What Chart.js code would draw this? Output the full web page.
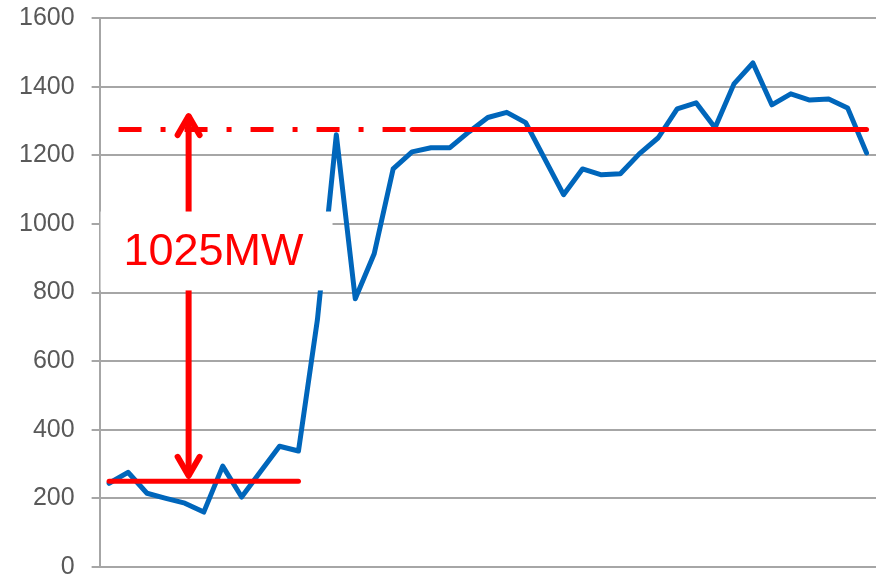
<!DOCTYPE html>
<html>
<head>
<meta charset="utf-8">
<script src="https://cdn.jsdelivr.net/npm/chart.js@4.4.1/dist/chart.umd.min.js"></script>
<style>
  html, body { margin: 0; padding: 0; background: #fff; }
  #wrap { width: 881px; height: 577px; }
</style>
</head>
<body>
<div id="wrap"><canvas id="loadChart" width="881" height="577"></canvas></div>
<script>
// load readings, one per time step (MW)
const loadMW = [244, 276, 215, 200, 186, 160, 294, 204, 278, 352, 338, 720, 1260, 782, 913,
  1160, 1210, 1222, 1222, 1268, 1310, 1325, 1295, 1190, 1085, 1160, 1143, 1146, 1204, 1251,
  1335, 1353, 1280, 1408, 1469, 1347, 1379, 1361, 1364, 1338, 1207];

const yTicks = [0, 200, 400, 600, 800, 1000, 1200, 1400, 1600];

// reference levels (MW) and the steps they span
const baseLevel = 250;
const baseSpan = [0, 10];
const peakLevel = 1275;
const peakDashSpan = [0.5, 16];
const peakSolidSpan = [16, 40];

// double arrow between the two levels
const arrowAt = 4.2;
const arrowTop = 1320;
const arrowBottom = 260;

const gapLabel = "1025MW";
const labelBoxX = [-0.45, 11.8];
const labelBoxY = [1036, 806];

const RED = "#FF0000";
const BLUE = "#0066BB";

const seriesPoints = loadMW.map((v, i) => ({ x: i, y: v }));
const levelLine = (span, level) => span.map(s => ({ x: s, y: level }));

const gapAnnotation = {
  id: "gapAnnotation",
  afterDatasetsDraw(chart) {
    const { ctx, scales: { x, y } } = chart;
    const ax = x.getPixelForValue(arrowAt);
    const top = y.getPixelForValue(arrowTop);
    const bot = y.getPixelForValue(arrowBottom);

    ctx.save();
    ctx.strokeStyle = RED;
    ctx.lineWidth = 6;
    ctx.lineCap = "round";
    ctx.lineJoin = "round";

    ctx.beginPath();
    ctx.moveTo(ax, top + 3);
    ctx.lineTo(ax, bot - 3);
    ctx.stroke();

    ctx.beginPath();
    ctx.moveTo(ax - 11, top + 21);
    ctx.lineTo(ax, top + 2);
    ctx.lineTo(ax + 11, top + 21);
    ctx.moveTo(ax - 11, bot - 21);
    ctx.lineTo(ax, bot - 2);
    ctx.lineTo(ax + 11, bot - 21);
    ctx.stroke();

    const bx0 = x.getPixelForValue(labelBoxX[0]);
    const bx1 = x.getPixelForValue(labelBoxX[1]);
    const by0 = y.getPixelForValue(labelBoxY[0]);
    const by1 = y.getPixelForValue(labelBoxY[1]);
    ctx.fillStyle = "#fff";
    ctx.fillRect(bx0, by0, bx1 - bx0, by1 - by0);

    ctx.fillStyle = RED;
    ctx.font = '45px "Liberation Sans", Arial, sans-serif';
    ctx.textAlign = "center";
    ctx.textBaseline = "middle";
    ctx.fillText(gapLabel, (bx0 + bx1) / 2 - 3, (by0 + by1) / 2 + 2);
    ctx.restore();
  }
};

new Chart(document.getElementById("loadChart"), {
  type: "line",
  data: {
    datasets: [
      {
        label: "load",
        data: seriesPoints,
        borderColor: BLUE,
        borderWidth: 5,
        borderJoinStyle: "round",
        borderCapStyle: "round",
        pointRadius: 0,
        tension: 0,
        order: 2
      },
      {
        label: "base",
        data: levelLine(baseSpan, baseLevel),
        borderColor: RED,
        borderWidth: 5,
        borderCapStyle: "round",
        pointRadius: 0,
        order: 1
      },
      {
        label: "peak dash",
        data: levelLine(peakDashSpan, peakLevel),
        borderColor: RED,
        borderWidth: 5,
        borderDash: [23, 19, 5, 19],
        borderCapStyle: "butt",
        pointRadius: 0,
        order: 1
      },
      {
        label: "peak",
        data: levelLine(peakSolidSpan, peakLevel),
        borderColor: RED,
        borderWidth: 5,
        borderCapStyle: "round",
        pointRadius: 0,
        order: 1
      }
    ]
  },
  options: {
    responsive: false,
    animation: false,
    layout: { padding: { left: 2, top: 18, right: 5, bottom: 10 } },
    plugins: {
      legend: { display: false },
      tooltip: { enabled: false }
    },
    scales: {
      x: {
        type: "linear",
        display: false,
        min: -0.5,
        max: loadMW.length - 0.5
      },
      y: {
        min: yTicks[0],
        max: yTicks[yTicks.length - 1],
        afterBuildTicks: axis => { axis.ticks = yTicks.map(v => ({ value: v })); },
        afterFit: axis => { axis.paddingTop = 0; axis.paddingBottom = 0; },
        grid: { color: "#A6A6A6", lineWidth: 2, tickLength: 8 },
        border: { color: "#A6A6A6", width: 2 },
        ticks: {
          color: "#595959",
          padding: 17,
          callback: v => String(v),
          font: { family: '"Liberation Sans", Arial, sans-serif', size: 25 }
        }
      }
    }
  },
  plugins: [gapAnnotation]
});
</script>
</body>
</html>
